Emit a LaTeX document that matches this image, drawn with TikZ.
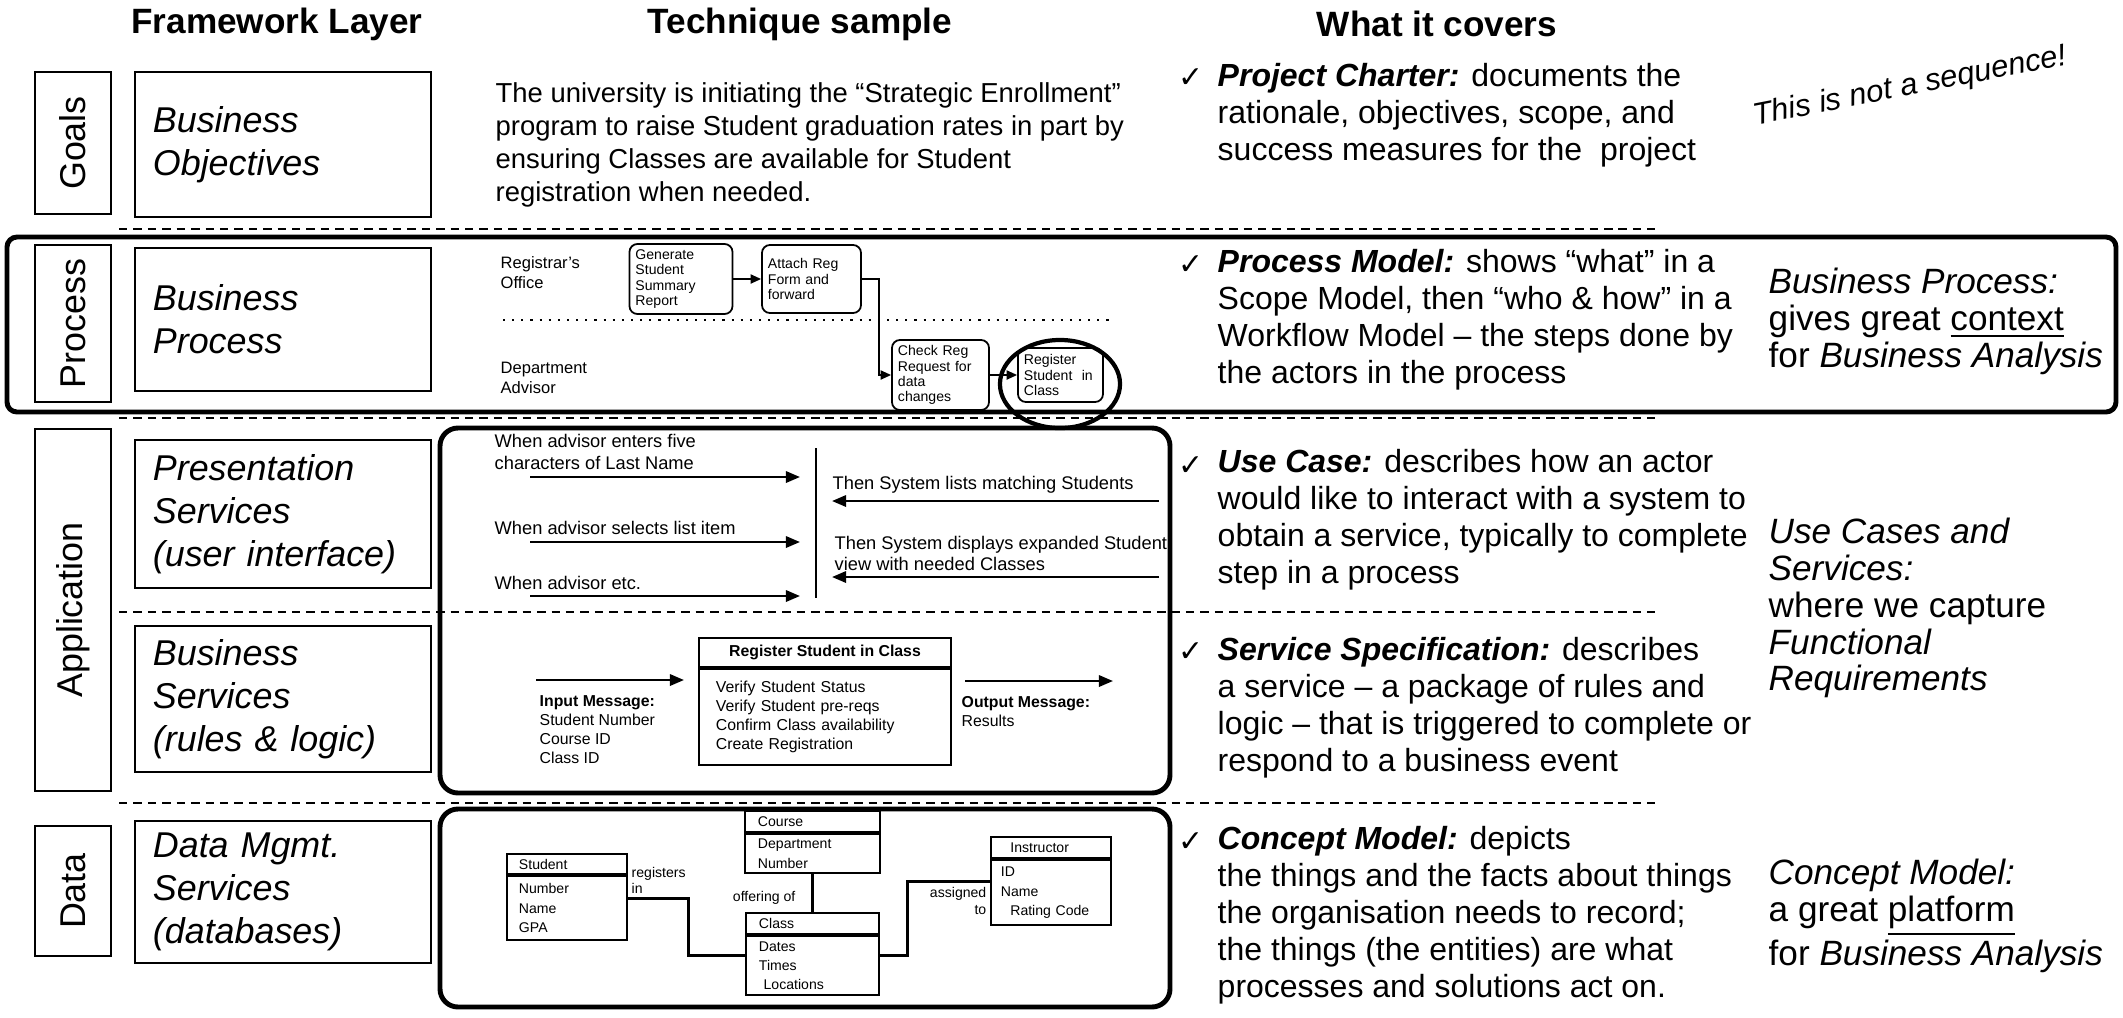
\documentclass[tikz,border=0pt]{standalone}
\usepackage{fontspec}
\setmainfont{Liberation Sans}
\newfontfamily\checkfont{DejaVu Sans}
\usetikzlibrary{arrows.meta,shapes.geometric}

\tikzset{
  colhead/.style={font=\fontsize{10}{12}\selectfont\bfseries},
  sep/.style={line width=0.6pt, dash pattern=on 2.4pt off 1.7pt},
  frame/.style={line width=1.4pt, rounded corners=0.18cm},
  tabbox/.style={draw, line width=0.6pt, rotate=90, minimum height=0.76cm, inner sep=0pt, font=\fontsize{10.2}{12}\selectfont},
  layerbox/.style={draw, line width=0.6pt, minimum width=2.96cm, text width=2.6cm, inner xsep=0.18cm, align=left, font=\fontsize{10.2}{12.2}\selectfont\itshape},
  sampletxt/.style={anchor=west, align=left, inner sep=0pt, font=\fontsize{7.8}{9.4}\selectfont},
  lanetxt/.style={anchor=west, align=left, inner sep=0pt, font=\fontsize{4.7}{5.7}\selectfont},
  task/.style={draw, line width=0.5pt, rounded corners=0.08cm, align=left, inner xsep=0.06cm, inner ysep=0pt, text width=#1, font=\fontsize{4}{4.3}\selectfont},
  flow/.style={-{Triangle[length=3pt,width=2.6pt]}, line width=0.5pt},
  uctxt/.style={anchor=west, align=left, inner sep=0pt, font=\fontsize{5.2}{6}\selectfont},
  ucarrow/.style={-{Triangle[length=4pt,width=3.2pt]}, line width=0.7pt},
  svctxt/.style={anchor=west, align=left, inner sep=0pt, font=\fontsize{4.5}{5.4}\selectfont},
  entbox/.style={draw, line width=0.6pt, align=left, inner xsep=0.12cm, inner ysep=0pt, text width=#1, font=\fontsize{4}{5.5}\selectfont},
  reltxt/.style={inner sep=0pt, align=left, font=\fontsize{4}{4.6}\selectfont},
  rel/.style={line width=0.9pt},
  chk/.style={anchor=west, inner sep=0pt, font=\checkfont\fontsize{8.5}{10}\selectfont},
  covertxt/.style={anchor=west, align=left, inner sep=0pt, font=\fontsize{9.1}{10.5}\selectfont},
  sidetxt/.style={anchor=west, align=left, inner sep=0pt, font=\fontsize{10}{10.5}\selectfont}
}

\begin{document}
\begin{tikzpicture}[x=0.01cm, y=-0.01cm]
\useasboundingbox (0,0) rectangle (2123,1017);

% column heads
\node[colhead] (hlayer) at (277,24) {Framework Layer};
\node[colhead] (hsample) at (800,24) {Technique sample};
\node[colhead] (hcovers) at (1437,24) {What it covers};

% row separators
\foreach \y in {229,418,612,803}
  \draw[sep] (119,\y) -- (1655,\y);

% frames
\draw[frame, rounded corners=0.1cm] (7,237) rectangle (2116,412);
\draw[frame] (440,428) rectangle (1170,793);
\draw[frame] (440,809) rectangle (1170,1007);

% layer tabs
\node[tabbox, minimum width=1.42cm] (tgoals) at (73,143) {Goals};
\node[tabbox, minimum width=1.57cm] (tproc) at (73,323.5) {Process};
\node[tabbox, minimum width=3.62cm] (tapp) at (73,610) {Application};
\node[tabbox, minimum width=1.30cm] (tdata) at (73,891) {Data};

% layer boxes
\node[layerbox, minimum height=1.45cm] (lobj) at (283,144.5) {Business\\Objectives};
\node[layerbox, minimum height=1.43cm] (lproc) at (283,319.5) {Business\\Process};
\node[layerbox, minimum height=1.48cm] (lpres) at (283,514) {Presentation\\Services\\(user interface)};
\node[layerbox, minimum height=1.46cm] (lbsvc) at (283,699) {Business\\Services\\(rules \& logic)};
\node[layerbox, minimum height=1.32cm] (ldata) at (283,892) {Data Mgmt.\\Services\\(databases)};

% goals sample
\node[sampletxt] (goaltxt) at (495,145) {The university is initiating the “Strategic Enrollment”\\program to raise Student graduation rates in part by\\ensuring Classes are available for Student\\registration when needed.};

% process sample
\node[lanetxt] (lreg) at (500,273) {Registrar's\\Office};
\node[lanetxt] (ladv) at (500,378) {Department\\Advisor};
\coordinate (laneL) at (503,320);
\coordinate (laneR) at (1110,320);
\draw[line width=0.6pt, dotted] (laneL) -- (laneR);
\node[task=0.91cm, minimum height=0.70cm] (tgen) at (681,279) {Generate\\Student\\Summary\\Report};
\node[task=0.87cm, minimum height=0.68cm] (tatt) at (811.5,279) {Attach Reg\\Form and\\forward};
\node[task=0.85cm, minimum height=0.70cm] (tchk) at (940.5,375) {Check Reg\\Request for\\data\\changes};
\node[task=0.73cm, minimum height=0.54cm] (treg) at (1060.5,375) {Register\\Student\ \ in\\Class};
\node[draw, ellipse, line width=1.2pt, minimum width=1.2cm, minimum height=0.88cm] (regring) at (1060,384) {};
\draw[flow] (tgen) -- (tatt);
\draw[flow] (tatt.east) -- ++(17,0) |- (tchk.west);
\draw[flow] (tchk) -- (treg);

% use case sample
\coordinate (sysT) at (816,448);
\coordinate (sysB) at (816,598);
\draw[line width=0.7pt] (sysT) -- (sysB);
\node[uctxt] (ua1) at (494,452) {When advisor enters five\\characters of Last Name};
\node[uctxt] (ua2) at (494,528) {When advisor selects list item};
\node[uctxt] (ua3) at (494,583) {When advisor etc.};
\node[uctxt] (us1) at (832,485) {Then System lists matching Students};
\node[uctxt] (us2) at (834,553) {Then System displays expanded Student\\view with needed Classes};
\foreach \y/\n in {477/1,542/2,596/3}{
  \coordinate (ui\n) at (530,\y);
  \coordinate (uo\n) at (800,\y);
  \draw[ucarrow] (ui\n) -- (uo\n);}
\foreach \y/\n in {501/1,577/2}{
  \coordinate (si\n) at (1159,\y);
  \coordinate (so\n) at (832,\y);
  \draw[ucarrow] (si\n) -- (so\n);}

% service sample
\node[draw, line width=0.6pt, minimum width=2.52cm, minimum height=0.29cm, inner sep=0pt, font=\fontsize{4.5}{5.4}\selectfont\bfseries] (svchd) at (825,652.5) {Register Student in Class};
\node[draw, line width=0.6pt, anchor=north, text width=2.18cm, inner xsep=0.17cm, inner ysep=0pt, minimum height=0.96cm, align=left, font=\fontsize{4.5}{5.4}\selectfont] (svcbd) at (svchd.south) {Verify Student Status\\Verify Student pre-reqs\\Confirm Class availability\\Create Registration};
\coordinate (inA) at (536,680);
\coordinate (inB) at (684,680);
\coordinate (outA) at (965,681);
\coordinate (outB) at (1113,681);
\draw[ucarrow] (inA) -- (inB);
\draw[ucarrow] (outA) -- (outB);
\node[svctxt] (inmsg) at (539,730) {\textbf{Input Message:}\\Student Number\\Course ID\\Class ID};
\node[svctxt] (outmsg) at (961,712) {\textbf{Output Message:}\\Results};

% concept sample
\node[entbox=0.96cm, minimum height=0.20cm] (stuhd) at (567,864) {Student};
\node[entbox=0.96cm, minimum height=0.64cm, anchor=north] (stubd) at (stuhd.south) {Number\\Name\\GPA};
\node[entbox=1.09cm, minimum height=0.21cm, inner xsep=0.13cm] (crshd) at (812.5,821.5) {Course};
\node[entbox=1.09cm, minimum height=0.39cm, inner xsep=0.13cm, anchor=north] (crsbd) at (crshd.south) {Department\\Number};
\node[entbox=1.07cm, minimum height=0.21cm, inner xsep=0.13cm] (clshd) at (812.5,923.5) {Class};
\node[entbox=1.07cm, minimum height=0.59cm, inner xsep=0.13cm, anchor=north] (clsbd) at (clshd.south) {Dates\\Times\\\ Locations};
\node[entbox=1.0cm, minimum height=0.21cm, inner xsep=0.1cm] (inshd) at (1051,847.5) {\ \ Instructor};
\node[entbox=1.0cm, minimum height=0.65cm, inner xsep=0.1cm, anchor=north] (insbd) at (inshd.south) {ID\\Name\\\ \ Rating Code};
\draw[rel] ([yshift=0.1cm]stubd.east) -- ++(60,0) |- ([yshift=0.1cm]clsbd.west);
\draw[rel] (crsbd.south) -- (clshd.north);
\draw[rel] ([yshift=0.1cm]clsbd.east) -- ++(27,0) |- ([yshift=0.115cm]insbd.west);
\node[reltxt, anchor=west] (lregin) at (631,880) {registers\\in};
\node[reltxt, anchor=east] (loff) at (796,898) {offering of};
\node[reltxt, anchor=east, align=right] (lasg) at (987,901) {assigned\\to};

% what it covers
\node[chk] (c1) at (1178,78) {✓};
\node[covertxt] (cov1) at (1217,115) {\textbf{\textit{Project Charter:}} documents the\\rationale, objectives, scope, and\\success measures for the\ \ project};
\node[chk] (c2) at (1178,265) {✓};
\node[covertxt] (cov2) at (1217,319.5) {\textbf{\textit{Process Model:}} shows “what” in a\\Scope Model, then “who \& how” in a\\Workflow Model – the steps done by\\the actors in the process};
\node[chk] (c3) at (1178,466) {✓};
\node[covertxt] (cov3) at (1217,520) {\textbf{\textit{Use Case:}} describes how an actor\\would like to interact with a system to\\obtain a service, typically to complete\\step in a process};
\node[chk] (c4) at (1178,652) {✓};
\node[covertxt] (cov4) at (1217,707.5) {\textbf{\textit{Service Specification:}} describes\\a service – a package of rules and\\logic – that is triggered to complete or\\respond to a business event};
\node[chk] (c5) at (1178,842) {✓};
\node[covertxt] (cov5) at (1217,915) {\textbf{\textit{Concept Model:}} depicts\\the things and the facts about things\\the organisation needs to record;\\the things (the entities) are what\\processes and solutions act on.};

% side notes
\node[font=\fontsize{8.8}{10}\selectfont\itshape, rotate=11] (snote) at (1910,87) {This is not a sequence!};
\node[sidetxt] (sproc) at (1768,321.5) {\textit{Business Process:}\\gives great \underline{context}\\for \textit{Business Analysis}};
\node[sidetxt] (suse) at (1768,608) {\textit{Use Cases and}\\\textit{Services:}\\where we capture\\\textit{Functional}\\\textit{Requirements}};
\node[sidetxt] (sconc) at (1768,916) {\textit{Concept Model:}\\a great \underline{platform}\\for \textit{Business Analysis}};
\end{tikzpicture}
\end{document}
